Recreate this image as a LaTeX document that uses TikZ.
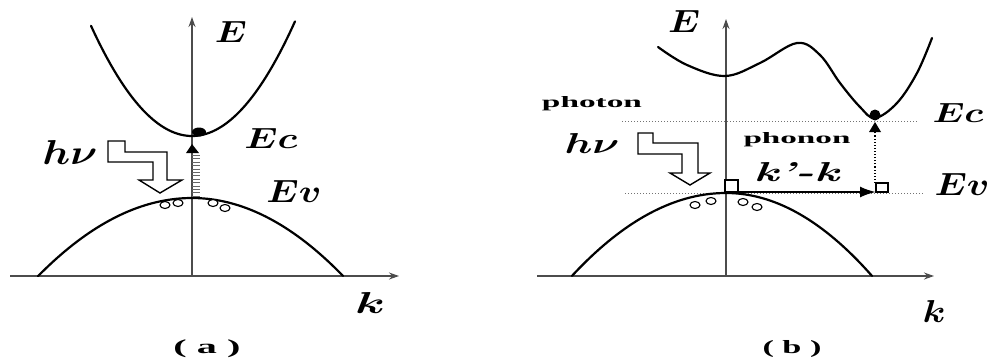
\documentclass[tikz,border=0pt]{standalone}
\usepackage{graphicx}
\usepackage{bm}
\usepackage{fontspec}
\newfontfamily\labserif{Liberation Serif}
\usetikzlibrary{arrows.meta}
\newcommand\lbl[3]{\resizebox{#1pt}{#2pt}{#3}}
\newcommand\lblt[3]{\resizebox*{#1pt}{#2pt}{#3}}
\begin{document}
\begin{tikzpicture}[x=1pt,y=-1pt,
  band/.style={line width=2.2pt,line cap=round},
  axis/.style={line width=1.4pt,black!70,-{Stealth[length=10pt,width=7pt]}},
  lab/.style={inner sep=0pt,anchor=center},
  hole/.style={draw,line width=1.1pt,fill=white},
  guide/.style={dotted,line width=1pt,black!55},
  photonarrow/.style={draw,line width=1.4pt,fill=white,line join=miter}]
\useasboundingbox (0,0) rectangle (991,362);

% ---------------- panel (a) ----------------
\coordinate (aO) at (192,276);
\coordinate (aL) at (10,276);
\coordinate (aR) at (399,276);
\coordinate (aT) at (192,17);
\draw[axis] (aL) -- (aR);
\draw[axis] (aO) -- (aT);
% conduction band
\draw[band] plot[domain=0:101,samples=40] ({192-\x},{136-0.0108*\x*\x});
\draw[band] plot[domain=0:103,samples=40] ({192+\x},{136-0.0108*\x*\x});
% valence band
\draw[band] plot[domain=0:154,samples=40] ({192-\x},{198+0.00329*\x*\x});
\draw[band] plot[domain=0:151,samples=40] ({192+\x},{198+0.00342*\x*\x});
% transition
\coordinate (aLad1) at (196,155);
\coordinate (aLad2) at (196,196);
\draw[black!60,line width=8pt,dash pattern=on 0.8pt off 2.6pt] (aLad1) -- (aLad2);
\fill (186,153) -- (192,144) -- (199,153) -- cycle;
\fill (199,132) ellipse (7 and 4.5);
% holes
\draw[hole] (165,205) ellipse (5 and 3.5);
\draw[hole] (178,203) ellipse (5 and 3.5);
\draw[hole] (213,203) ellipse (5 and 3.5);
\draw[hole] (225,208) ellipse (5 and 3.5);
% photon arrow
\path[photonarrow] (108,141) -- (125,141) -- (125,152) -- (167,152) -- (167,180)
  -- (182,180) -- (160,193) -- (139,180) -- (153,180) -- (153,162) -- (108,162) -- cycle;
% labels
\node[lab] (aE)  at (231,32)  {\lbl{32}{21}{$\bm{E}$}};
\node[lab] (aEc) at (271,138) {\lbl{53}{20}{$\bm{Ec}$}};
\node[lab] (aEv) at (294,191) {\lbl{55}{22}{$\bm{Ev}$}};
\node[lab] (ahv) at (70,152)  {\lbl{55}{24}{$\bm{h\nu}$}};
\node[lab] (ak)  at (370,303) {\lbl{30}{21}{$\bm{k}$}};
\node[lab] (acap) at (207,349) {\lblt{67}{18}{\labserif\bfseries ( a )}};

% ---------------- panel (b) ----------------
\coordinate (bO) at (726,276);
\coordinate (bL) at (537,276);
\coordinate (bR) at (934,276);
\coordinate (bT) at (726,19);
\coordinate (bEc1) at (622,121);
\coordinate (bEc2) at (918,121);
\coordinate (bEv1) at (625,193);
\coordinate (bEv2) at (924,193);
\draw[guide] (bEc1) -- (bEc2);
\draw[guide] (bEv1) -- (bEv2);
\draw[axis] (bL) -- (bR);
\draw[axis] (bO) -- (bT);
% conduction band
\draw[band] plot[smooth,tension=0.6] coordinates {(658,47) (687,65) (725,76) (760,63) (797,43) (820,55) (840,83) (860,107) (875,118) (897,103) (917,73) (932,38)};
% valence band
\draw[band] plot[domain=0:154,samples=40] ({726-\x},{193+0.0035*\x*\x});
\draw[band] plot[domain=0:146,samples=40] ({726+\x},{193+0.00389*\x*\x});
% phonon arrow
\coordinate (bA1) at (727,192);
\coordinate (bA2) at (876,192);
\draw[line width=2.2pt,-{Latex[length=16pt,width=11pt]}] (bA1) -- (bA2);
\draw[line width=1.1pt,fill=white] (725,180) rectangle (738,192);
\draw[line width=1.1pt,fill=white] (876,183) rectangle (888,192);
% vertical transition
\coordinate (bV1) at (875,183);
\coordinate (bV2) at (875,132);
\draw[line width=1.1pt,dotted] (bV1) -- (bV2);
\fill (869,132) -- (875,122) -- (881,132) -- cycle;
\fill (875,115) circle (5.5);
% holes
\draw[hole] (695,205) ellipse (5 and 3.5);
\draw[hole] (711,201) ellipse (5 and 3.5);
\draw[hole] (743,202) ellipse (5 and 3.5);
\draw[hole] (757,207) ellipse (5 and 3.5);
% photon arrow
\path[photonarrow] (638,133) -- (653,133) -- (653,143) -- (698,143) -- (698,173)
  -- (710,173) -- (690,185) -- (670,173) -- (682,173) -- (682,154) -- (638,154) -- cycle;
% labels
\node[lab] (bE)  at (684,21)  {\lbl{32}{22}{$\bm{E}$}};
\node[lab] (bEc) at (958,113) {\lbl{51}{19}{$\bm{Ec}$}};
\node[lab] (bEv) at (962,184) {\lbl{55}{22}{$\bm{Ev}$}};
\node[lab] (bph) at (592,104) {\lbl{100}{11}{\labserif\bfseries photon}};
\node[lab] (bhv) at (592,143) {\lbl{55}{20}{$\bm{h\nu}$}};
\node[lab] (bpn) at (797,140) {\lbl{107}{11}{\labserif\bfseries phonon}};
\node[lab] (bkk) at (797,172) {\lbl{87}{19}{\textbf{\textit{k'-k}}}};
\node[lab] (bk)  at (934,311) {\lbl{23}{22}{$\bm{k}$}};
\node[lab] (bcap) at (792,349) {\lblt{59}{17}{\labserif\bfseries ( b )}};
\end{tikzpicture}
\end{document}
